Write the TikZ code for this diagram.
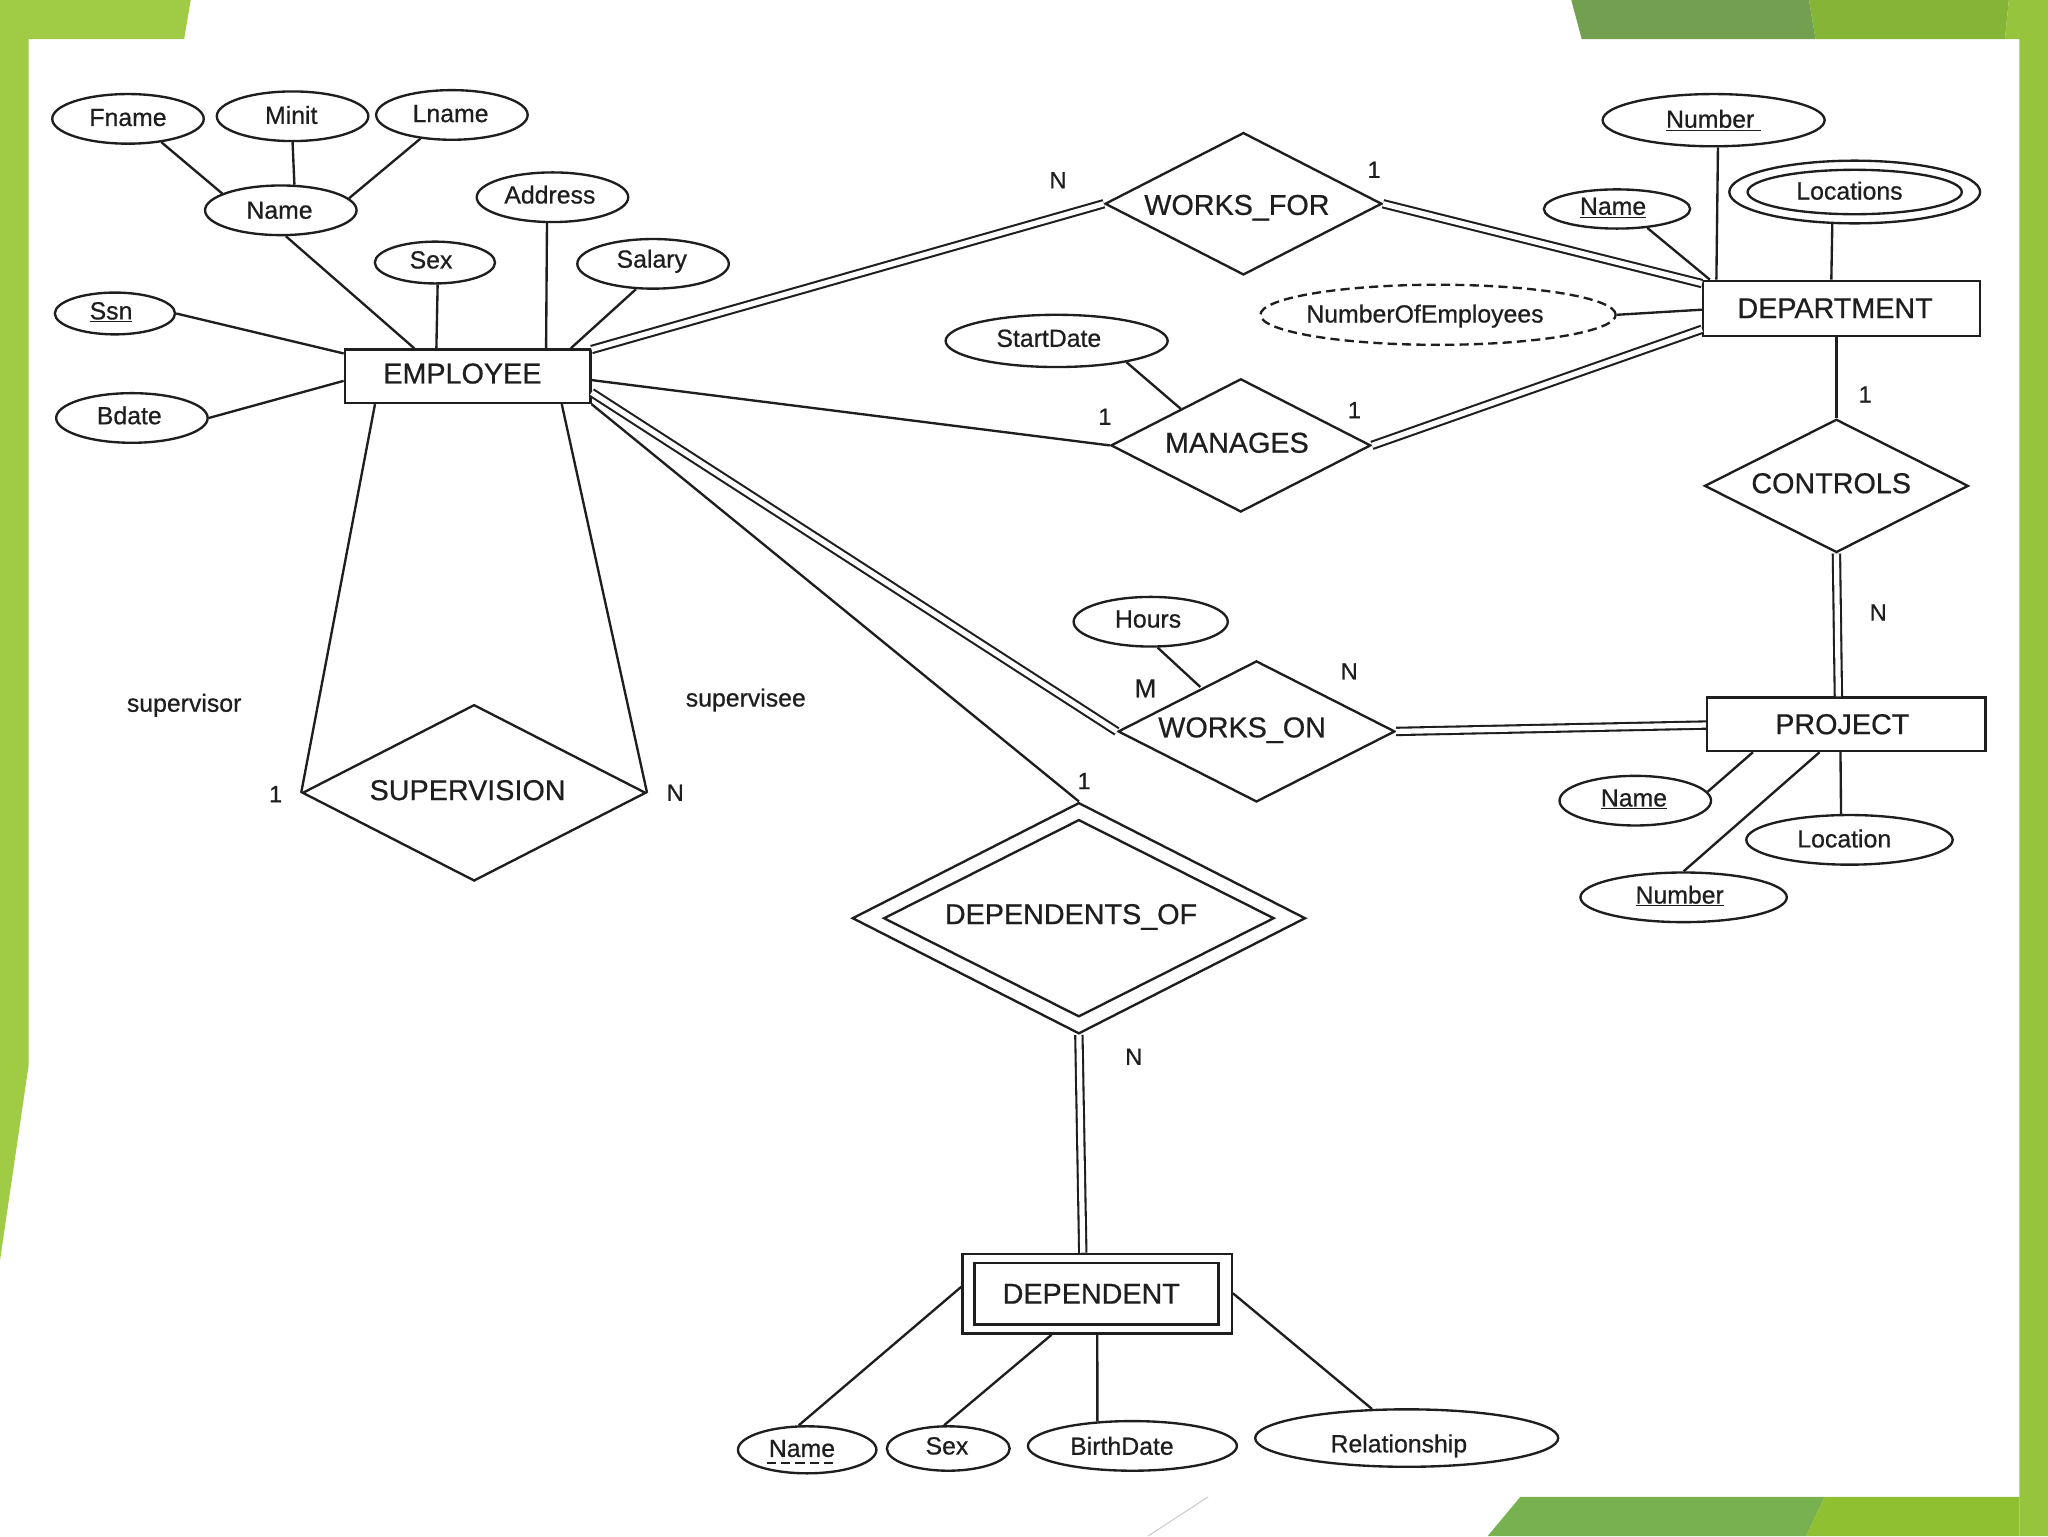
\documentclass[tikz,border=0pt]{standalone}
\usepackage{fontspec}
\setmainfont{Liberation Sans}[FakeBold=0.6]
\usetikzlibrary{shapes.geometric}
\definecolor{barL}{HTML}{A0CB45}
\definecolor{barR}{HTML}{96C43C}
\definecolor{topD}{HTML}{72A050}
\definecolor{topM}{HTML}{84B536}
\definecolor{botD}{HTML}{78B250}
\definecolor{botM}{HTML}{8FC031}
\definecolor{ink}{HTML}{1E1E1E}
\newcommand\off[3]{\raisebox{#2pt}[\height][\depth]{\hspace*{#1pt}#3\hspace*{-#1pt}}}
\tikzset{
  attr/.style={ellipse,draw=ink,line width=1.8pt,inner sep=0pt,text=ink,font=\fontsize{19}{21}\selectfont},
  ent/.style={rectangle,draw=ink,line width=1.8pt,inner sep=0pt,text=ink,font=\fontsize{22}{24}\selectfont},
  rel/.style={diamond,draw=ink,line width=1.8pt,inner sep=0pt,text=ink,aspect=2,font=\fontsize{22}{24}\selectfont},
  lab/.style={inner sep=0pt,text=ink,font=\fontsize{18}{20}\selectfont},
  thin line/.style={draw=ink,line width=1.8pt},
  dbl/.style={draw=ink,line width=1.6pt,double=white,double distance=4pt},
}
\begin{document}
\begin{tikzpicture}[x=1pt,y=-1pt]
\useasboundingbox (0,0) rectangle (1568,1176);
% background
\fill[white] (0,0) rectangle (1568,1176);
\fill[barL] (0,0) -- (146,0) -- (141,30) -- (22,30) -- (22,815) -- (0,965) -- cycle;
\fill[topD] (1203,0) -- (1385,0) -- (1390,30) -- (1211,30) -- cycle;
\fill[topM] (1385,0) -- (1538,0) -- (1535,30) -- (1390,30) -- cycle;
\fill[barR] (1538,0) -- (1568,0) -- (1568,1176) -- (1546,1176) -- (1546,30) -- (1535,30) -- cycle;
\fill[botD] (1164,1146) -- (1397,1146) -- (1383,1176) -- (1139,1176) -- cycle;
\fill[botM] (1397,1146) -- (1546,1146) -- (1546,1176) -- (1383,1176) -- cycle;
\draw[black!20,line width=0.8pt] (925,1146) -- (879,1176);

% employee side
\node[ent,minimum width=188pt,minimum height=41pt] (emp) at (358,288) {\off{-4}{2}{EMPLOYEE}};
\node[attr,minimum width=116pt,minimum height=38pt] (fname) at (98,91) {\off{0}{1}{Fname}};
\node[attr,minimum width=116pt,minimum height=38pt] (minit) at (224,89) {\off{-1}{1}{Minit}};
\node[attr,minimum width=116pt,minimum height=38pt] (lname) at (346,88) {\off{-1}{1}{Lname}};
\node[attr,minimum width=116pt,minimum height=38pt] (ename) at (215,161) {\off{-1}{0}{Name}};
\node[attr,minimum width=116pt,minimum height=38pt] (address) at (423,151) {\off{-2}{2}{Address}};
\node[attr,minimum width=92pt,minimum height=32pt] (esex) at (333,201) {\off{-3}{2}{Sex}};
\node[attr,minimum width=116pt,minimum height=38pt] (salary) at (500,202) {\off{-1}{2}{Salary}};
\node[attr,minimum width=92pt,minimum height=32pt] (ssn) at (88,240) {\off{-3}{1}{\underline{Ssn}}};
\node[attr,minimum width=116pt,minimum height=38pt] (bdate) at (101,320) {\off{-2}{2}{Bdate}};

% relationships
\node[rel,minimum width=212pt,minimum height=109pt] (wf) at (952,156) {\off{-5}{-3}{WORKS\_FOR}};
\node[rel,minimum width=199pt,minimum height=102pt] (man) at (950,341) {\off{-3}{2}{MANAGES}};
\node[rel,minimum width=202pt,minimum height=102pt] (con) at (1406,372) {\off{-4}{2}{CONTROLS}};
\node[rel,minimum width=212pt,minimum height=108pt] (won) at (962,560) {\off{-11}{1}{WORKS\_ON}};
\node[rel,minimum width=263pt,minimum height=135pt] (sup) at (363,607) {\off{-5}{2}{SUPERVISION}};
\node[rel,minimum width=347pt,minimum height=177pt] (depo) at (826,703) {};
\node[rel,minimum width=299pt,minimum height=151pt] (depi) at (826,703) {\off{-6}{1}{DEPENDENTS\_OF}};

% department side
\node[ent,minimum width=212pt,minimum height=42pt] (dept) at (1410,236) {\off{-5}{0}{DEPARTMENT}};
\node[attr,minimum width=170pt,minimum height=40pt] (dnum) at (1312,92) {\underline{Number\ }};
\node[attr,minimum width=112pt,minimum height=30pt] (dname) at (1238,160) {\off{-3}{1}{\underline{Name}}};
\node[attr,minimum width=192pt,minimum height=48pt] (loco) at (1420,147) {};
\node[attr,minimum width=164pt,minimum height=34pt] (loci) at (1420,147) {\off{-4}{1}{Locations}};
\node[attr,dash pattern=on 7pt off 4pt,minimum width=272pt,minimum height=46pt] (noe) at (1101,241) {\off{-10}{-1}{NumberOfEmployees}};
\node[attr,minimum width=170pt,minimum height=40pt] (start) at (809,261) {\off{-6}{2}{StartDate}};
\node[attr,minimum width=118pt,minimum height=38pt] (hours) at (881,476) {\off{-2}{2}{Hours}};

% project side
\node[ent,minimum width=213pt,minimum height=41pt] (proj) at (1413.5,554.5) {\off{-3}{0}{PROJECT}};
\node[attr,minimum width=116pt,minimum height=38pt] (pname) at (1252,613) {\off{-1}{1}{\underline{Name}}};
\node[attr,minimum width=158pt,minimum height=38pt] (ploc) at (1416,643) {\off{-4}{1}{Location}};
\node[attr,minimum width=158pt,minimum height=38pt] (pnum) at (1289,687) {\off{-3}{1}{\underline{Number}}};

% dependent
\node[ent,minimum width=206pt,minimum height=61pt] (dento) at (840,990.5) {};
\node[ent,minimum width=187pt,minimum height=47pt] (denti) at (839.5,990.5) {\off{-4}{0}{DEPENDENT}};
\node[attr,minimum width=106pt,minimum height=36pt] (dpname) at (618,1110) {\off{-4}{1}{Name}};
\node[attr,minimum width=94pt,minimum height=34pt] (dpsex) at (726,1109) {\off{-1}{2}{Sex}};
\node[attr,minimum width=160pt,minimum height=38pt] (birth) at (867,1107) {\off{-8}{0}{BirthDate}};
\node[attr,minimum width=232pt,minimum height=44pt] (relship) at (1077,1101) {\off{-6}{-6}{Relationship}};
\draw[ink,line width=1.6pt,dash pattern=on 7pt off 4pt] ([xshift=-31pt,yshift=-10pt]dpname.center) -- ([xshift=22pt,yshift=-10pt]dpname.center);

% attribute connectors (angle anchors point in the true direction)
\draw[thin line] (fname.-35) -- (ename.164);
\draw[thin line] (minit.south) -- (ename.62);
\draw[thin line] (lname.-143) -- (ename.10);
\draw[thin line] (ename.-79) -- ([xshift=54pt]emp.north west);
\draw[thin line] (esex.-83) -- ([xshift=71pt]emp.north west);
\draw[thin line] (address.-102) -- ([xshift=155pt]emp.north west);
\draw[thin line] (salary.-124) -- ([xshift=174pt]emp.north west);
\draw[thin line] (ssn.east) -- ([yshift=-4pt]emp.north west);
\draw[thin line] (bdate.east) -- ([yshift=-25pt]emp.north west);
\draw[thin line] (dnum.-81) -- ([xshift=11pt]dept.north west);
\draw[thin line] (dname.-32) -- ([xshift=6pt]dept.north west);
\draw[thin line] (loco.-125) -- ([xshift=99pt]dept.north west);
\draw[thin line] (noe.east) -- ([yshift=-23pt]dept.north west);
\draw[thin line] (start.-17) -- ([xshift=-46pt,yshift=28pt]man.center);
\draw[thin line] (hours.-75) -- ([xshift=-43pt,yshift=34pt]won.center);
\draw[thin line] (pname.7) -- ([xshift=36pt]proj.south west);
\draw[thin line] (pnum.north) -- ([xshift=87pt]proj.south west);
\draw[thin line] (ploc.108) -- ([xshift=103pt]proj.south west);
\draw[thin line] ([yshift=-26pt]dento.north west) -- (dpname.109);
\draw[thin line] ([xshift=69pt]dento.south west) -- (dpsex.100);
\draw[thin line] ([xshift=104pt]dento.south west) -- (birth.145);
\draw[thin line] ([yshift=-31pt]dento.north east) -- (relship.140);

% relationship connectors
\draw[dbl] ([yshift=-1pt]emp.north east) -- (wf.west);
\draw[dbl] (wf.east) -- ([yshift=-3pt]dept.north west);
\draw[thin line] ([yshift=-3pt]emp.east) -- (man.west);
\draw[dbl] (man.east) -- ([yshift=-38pt]dept.north west);
\draw[thin line] (dept.south -| con.north) -- (con.north);
\draw[dbl] (con.south) -- ([xshift=-6pt]proj.north);
\draw[dbl] (won.east) -- ([yshift=-22pt]proj.north west);
\draw[dbl] ([yshift=-12.5pt]emp.east) -- (won.west);
\draw[thin line] (emp.south east) -- (depo.north);
\draw[thin line] ([xshift=24pt]emp.south west) -- (sup.west);
\draw[thin line] ([xshift=167pt]emp.south west) -- (sup.east);
\draw[dbl] (depo.south) -- ([xshift=-11pt]dento.north);

% labels
\node[lab] (l1) at (810,138) {N};
\node[lab] (l2) at (1052,130) {1};
\node[lab] (l3) at (846,319) {1};
\node[lab] (l4) at (1037,314) {1};
\node[lab] (l5) at (1428,302) {1};
\node[lab] (l6) at (1438,469) {N};
\node[lab,font=\fontsize{20}{22}\selectfont] (l7) at (877,527) {M};
\node[lab] (l8) at (1033,514) {N};
\node[lab] (l9) at (830,598) {1};
\node[lab] (l10) at (868,809) {N};
\node[lab] (l11) at (211,608) {1};
\node[lab] (l12) at (517,607) {N};
\node[lab,font=\fontsize{19}{21}\selectfont] (l13) at (141,540) {supervisor};
\node[lab,font=\fontsize{19}{21}\selectfont] (l14) at (571,536) {supervisee};
\end{tikzpicture}
\end{document}
